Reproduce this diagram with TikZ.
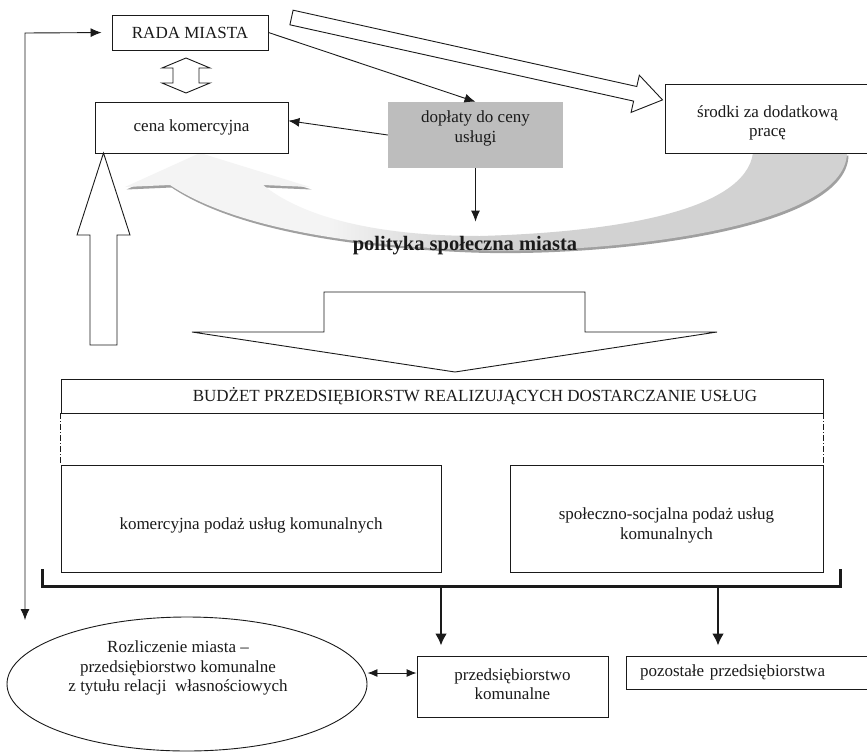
\documentclass[tikz,border=0pt]{standalone}
\usepackage{fontspec}
\setmainfont{Liberation Serif}
\usetikzlibrary{arrows.meta,shapes.geometric,calc}
\definecolor{dopgray}{HTML}{BDBDBD}
\definecolor{bandL}{HTML}{F4F4F4}
\definecolor{bandR}{HTML}{D2D2D2}
\definecolor{bandS}{HTML}{A0A0A0}
\definecolor{ink}{HTML}{1A1A1A}
\pgfdeclarehorizontalshading{bandshade}{100bp}{color(0bp)=(bandL); color(39bp)=(bandL); color(49bp)=(bandR); color(100bp)=(bandR)}
\tikzset{
  hd/.tip={Latex[length=11pt,width=9pt]},
  hdb/.tip={Latex[length=12pt,width=12pt]},
}
\begin{document}
\begin{tikzpicture}[x=1pt,y=-1pt,
  every node/.style={font=\fontsize{17}{19.5}\selectfont, text=ink},
  box/.style={draw=ink, line width=0.9pt, inner sep=0pt, align=center},
  txt/.style={inner sep=0pt, align=center},
  conn/.style={draw=ink, line width=0.9pt, -hd},
  hollow/.style={draw=ink, line width=0.9pt, fill=white, line join=miter},
  bracket/.style={draw=ink, line width=3pt},
  thickarr/.style={draw=ink, line width=2.6pt, -hdb},
  dashdot/.style={draw=ink, line width=0.6pt, dash pattern=on 6pt off 2pt on 1pt off 2pt},
]
\useasboundingbox (0,0) rectangle (867,755);
\fill[white] (0,0) rectangle (867,755);

% curved shaded arrow (polityka spoleczna)
\begin{scope}[shift={(1.5,2.5)}]
\fill[bandS] (200,153) -- (310,187) -- (263,185) .. controls (300,215) and (370,236) .. (480,236) .. controls (620,232) and (745,210) .. (753,153) -- (847,153) .. controls (845,230) and (600,255) .. (470,250) .. controls (340,245) and (230,225) .. (170,185) -- (125,187) -- cycle;
\end{scope}
\shade[shading=bandshade] (200,153) -- (310,187) -- (263,185) .. controls (300,215) and (370,236) .. (480,236) .. controls (620,232) and (745,210) .. (753,153) -- (847,153) .. controls (845,230) and (600,255) .. (470,250) .. controls (340,245) and (230,225) .. (170,185) -- (125,187) -- cycle;

% hollow arrows
\draw[hollow] (186,58) -- (210,68) -- (199,68) -- (199,83) -- (210,83) -- (186,93) -- (162,83) -- (173,83) -- (173,68) -- (162,68) -- cycle;
\draw[hollow] (293.1,10.2) -- (636.8,86.5) -- (639.3,75.2) -- (662.5,99.9) -- (631.1,112.4) -- (633.6,101.1) -- (289.9,24.8) -- cycle;
\draw[hollow] (90,345) -- (117,345) -- (117,235) -- (130,235) -- (103.5,153) -- (77,235) -- (90,235) -- cycle;
\draw[hollow] (324,292) -- (585,292) -- (585,332) -- (717,332) -- (455,372) -- (192,332) -- (324,332) -- cycle;

% boxes
\node[box, minimum width=156, minimum height=35] (rada) at (190,32.5) {RADA MIASTA};
\node[box, minimum width=193, minimum height=51] (cena) at (191.5,127.5) {cena komercyjna};
\node[fill=dopgray, minimum width=175, minimum height=66, inner sep=0pt] (dop) at (475.5,135) {};
\node[txt] (doptxt) at (475.5,128.5) {dopłaty do ceny\\usługi};
\node[box, minimum width=205, minimum height=69] (srod) at (767.5,118.5) {};
\node[txt] (srodtxt) at (767.5,123) {środki za dodatkową\\pracę};

\node[txt, font=\fontsize{20.5}{24}\selectfont\bfseries, anchor=base] (pol) at (465,250) {polityka społeczna miasta};

\node[box, minimum width=762, minimum height=34] (bud) at (442,396) {\hspace*{66pt}BUDŻET PRZEDSIĘBIORSTW REALIZUJĄCYCH DOSTARCZANIE USŁUG};
\node[box, minimum width=380, minimum height=107] (kom) at (251,518.5) {};
\node[txt] (komtxt) at (251,525) {komercyjna podaż usług komunalnych};
\node[box, minimum width=313, minimum height=107] (spo) at (666.5,518.5) {};
\node[txt] (spotxt) at (666.5,525.5) {społeczno-socjalna podaż usług\\komunalnych};

\node[draw=ink, line width=0.9pt, ellipse, minimum width=360, minimum height=134, inner sep=0pt] (ell) at (187,684) {};
\node[txt] (elltxt) at (178,668) {Rozliczenie miasta –\\przedsiębiorstwo komunalne\\z tytułu relacji~ własnościowych};
\node[box, minimum width=191, minimum height=61] (pk) at (512.5,686.5) {};
\node[txt] (pktxt) at (512.5,684) {przedsiębiorstwo\\komunalne};
\node[box, minimum width=244, minimum height=33, text width=216, inner xsep=14pt, align=left] (poz) at (748,672.5) {pozostałe przedsiębiorstwa};

% dash-dot links
\draw[dashdot] (bud.south west) -- (kom.north west);
\draw[dashdot] (bud.south east) -- (spo.north east);

% bracket
\coordinate (brA) at (42,569);
\coordinate (brB) at (42,586);
\coordinate (brC) at (840,586);
\coordinate (brD) at (840,569);
\draw[bracket] (brA) -- (brB) -- (brC) -- (brD);
\coordinate (b1) at (441,586);
\coordinate (b2) at (718,586);
\draw[thickarr, shorten >=10pt] (b1) -- (b1 |- pk.north);
\draw[thickarr, shorten >=10pt] (b2) -- (b2 |- poz.north);

% connectors
\coordinate (fbt) at (25,33);
\coordinate (fbb) at (25,620);
\draw[draw=ink, line width=0.9pt, hd-hd, shorten >=10pt] (fbb) -- (fbt) -- (rada.west);
\draw[conn] (rada.east) -- (dop.north);
\draw[conn] (dop.west) -- (cena.4);
\draw[conn, shorten >=14pt] (dop.south) -- (dop.south |- pol.north);
\coordinate (dc) at ($(pk.west)+(0,-13.5)$);
\draw[draw=ink, line width=0.9pt, {Latex[length=10pt,width=8pt]}-{Latex[length=10pt,width=8pt]}] (dc -| ell.east) -- (dc);
\end{tikzpicture}
\end{document}
